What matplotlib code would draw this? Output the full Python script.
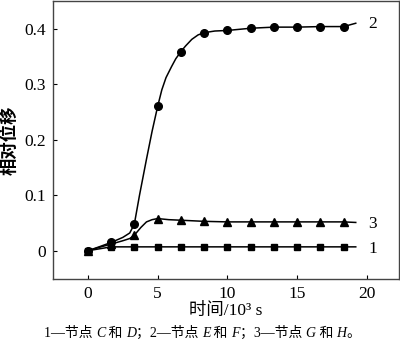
import matplotlib
matplotlib.use('Agg')
import matplotlib.pyplot as plt
from matplotlib.offsetbox import TextArea, HPacker, AnchoredOffsetbox

plt.rcParams['font.family'] = ['Liberation Serif', 'Noto Sans CJK SC']

# marker positions (10^3 s)
t_marks = [0, 1.67, 3.33, 5.0, 6.67, 8.33, 10.0, 11.67, 13.33, 15.0, 16.67, 18.33]
d1_marks = [0, 0.007, 0.007, 0.007, 0.007, 0.007, 0.007, 0.007, 0.007, 0.007, 0.007, 0.007]
d2_marks = [0, 0.015, 0.048, 0.260, 0.359, 0.393, 0.397, 0.401, 0.403, 0.403, 0.404, 0.404]
d3_marks = [0, 0.012, 0.028, 0.058, 0.055, 0.053, 0.052, 0.052, 0.052, 0.052, 0.052, 0.052]

# curve traces
t1_line = [0, 1.67, 18.33, 19.2]
d1_line = [0, 0.007, 0.007, 0.007]
t2_line = [0, 0.8, 1.67, 2.5, 3.0, 3.33, 3.7, 4.2, 4.6, 5.0, 5.3, 5.6, 6.0, 6.3,
           6.67, 7.0, 7.45, 7.9, 8.33, 9.1, 10.0, 11.67, 13.33, 15.0, 16.67, 18.33, 19.2]
d2_line = [0, 0.007, 0.015, 0.024, 0.032, 0.048, 0.100, 0.165, 0.215, 0.260, 0.290,
           0.312, 0.332, 0.346, 0.359, 0.369, 0.381, 0.389, 0.393, 0.396, 0.397,
           0.401, 0.403, 0.403, 0.404, 0.404, 0.410]
t3_line = [0, 0.8, 1.67, 2.5, 3.0, 3.33, 3.8, 4.2, 4.6, 5.0, 5.8, 6.67, 8.33, 10.0,
           18.33, 19.2]
d3_line = [0, 0.006, 0.012, 0.018, 0.022, 0.028, 0.042, 0.052, 0.056, 0.058, 0.056,
           0.055, 0.053, 0.052, 0.052, 0.051]

curve_labels = ['1', '2', '3']
label_pos = [(20.1, 0.003), (20.1, 0.408), (20.1, 0.049)]

fig = plt.figure(figsize=(4.0, 3.51), dpi=100)
ax = fig.add_axes([0.1325, 0.205, 0.865, 0.792])

ax.plot(t1_line, d1_line, color='black', lw=1.1)
ax.plot(t2_line, d2_line, color='black', lw=1.1)
ax.plot(t3_line, d3_line, color='black', lw=1.1)
ax.plot(t_marks, d1_marks, 's', color='black', ms=4.5)
ax.plot(t_marks, d2_marks, 'o', color='black', ms=5.5)
ax.plot(t_marks, d3_marks, '^', color='black', ms=5.5)

for lab, (x, y) in zip(curve_labels, label_pos):
    ax.text(x, y, lab, fontsize=12.5, va='center', ha='left')

ax.set_xlim(-2.5, 22.3)
ax.set_ylim(-0.051, 0.45)
ax.set_xticks([0, 5, 10, 15, 20])
ax.set_yticks([0, 0.1, 0.2, 0.3, 0.4])
ax.set_yticklabels(['0', '0.1', '0.2', '0.3', '0.4'])
ax.tick_params(direction='in', length=3, width=0.8, labelsize=12.5, pad=5)
for s in ax.spines.values():
    s.set_color('#444444')
    s.set_linewidth(1.0)

ax.set_ylabel('相对位移', fontsize=12.5, family=['Noto Sans CJK SC'], fontweight='bold', labelpad=4)
ax.set_xlabel('时间/10³ s', fontsize=12.5, labelpad=1)

# caption with italic node letters
parts = [('1—节点 ', 'normal'), ('C', 'italic'), (' 和 ', 'normal'), ('D', 'italic'),
         ('；2—节点 ', 'normal'), ('E', 'italic'), (' 和 ', 'normal'), ('F', 'italic'),
         ('；3—节点 ', 'normal'), ('G', 'italic'), (' 和 ', 'normal'), ('H', 'italic'),
         ('。', 'normal')]
boxes = [TextArea(s, textprops=dict(fontsize=10, style=st,
                                     family=['Liberation Serif', 'Noto Sans CJK SC']))
         for s, st in parts]
pack = HPacker(children=boxes, align='baseline', pad=0, sep=0)
anch = AnchoredOffsetbox(loc='center', child=pack, frameon=False,
                         bbox_to_anchor=(0.505, 0.052), bbox_transform=fig.transFigure,
                         borderpad=0)
fig.add_artist(anch)

fig.savefig('out.png', dpi=100)
